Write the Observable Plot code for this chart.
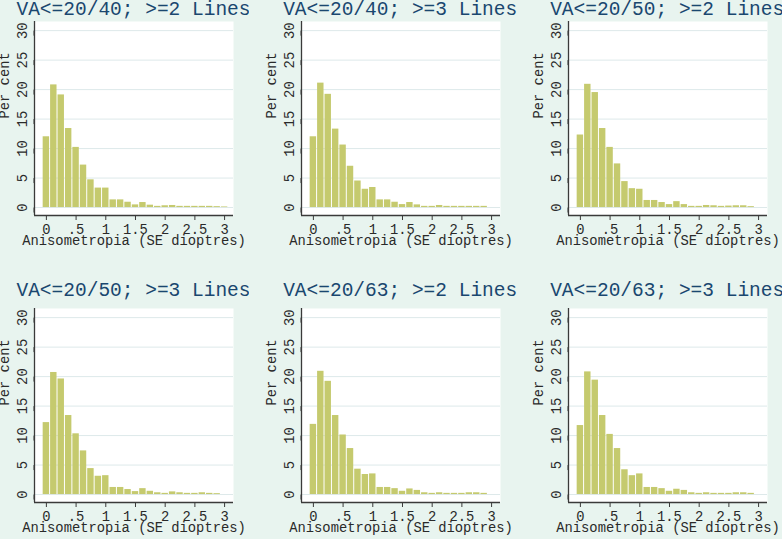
<!DOCTYPE html>
<html><head><meta charset="utf-8">
<script src="https://cdn.jsdelivr.net/npm/d3@7"></script>
<script src="https://cdn.jsdelivr.net/npm/@observablehq/plot@0.6"></script>
<style>
html,body{margin:0;padding:0;background:#e8f4ef;overflow:hidden;}
#root{position:relative;width:782px;height:539px;overflow:hidden;background:#e8f4ef;}
.tclip{position:absolute;overflow:hidden;height:24px;}
.tin{position:absolute;white-space:nowrap;font-family:"Liberation Mono",monospace;font-size:19.5px;line-height:20px;color:#1a476f;text-align:center;width:400px;}
</style></head><body><div id="root"></div>
<script>
// Bin centres (SE dioptres), width 0.125
const binCenters = [0, 0.125, 0.25, 0.375, 0.5, 0.625, 0.75, 0.875, 1, 1.125, 1.25, 1.375, 1.5, 1.625, 1.75, 1.875, 2, 2.125, 2.25, 2.375, 2.5, 2.625, 2.75, 2.875, 3];
const binWidth = 0.125;

const titles = ["VA<=20/40; >=2 Lines", "VA<=20/40; >=3 Lines", "VA<=20/50; >=2 Lines",
                "VA<=20/50; >=3 Lines", "VA<=20/63; >=2 Lines", "VA<=20/63; >=3 Lines"];

const pct_40_2 = [12.0, 20.8, 19.1, 13.4, 10.2, 7.2, 4.7, 3.3, 3.3, 1.3, 1.3, 0.9, 0.45, 0.85, 0.4, 0.2, 0.3, 0.35, 0.2, 0.2, 0.2, 0.2, 0.2, 0.15, 0.1];
const pct_40_3 = [12.0, 21.1, 19.2, 13.3, 10.6, 7.0, 4.5, 3.1, 3.4, 1.3, 1.3, 0.9, 0.5, 0.85, 0.45, 0.2, 0.2, 0.35, 0.2, 0.2, 0.2, 0.2, 0.2, 0.2];
const pct_50_2 = [12.3, 20.9, 19.5, 13.4, 10.2, 7.4, 4.4, 3.2, 3.1, 1.2, 1.2, 0.85, 0.5, 1.0, 0.5, 0.2, 0.2, 0.35, 0.3, 0.2, 0.25, 0.3, 0.3, 0.15];
const pct_50_3 = [12.2, 20.7, 19.6, 13.4, 10.3, 7.4, 4.4, 3.1, 3.2, 1.2, 1.2, 0.85, 0.5, 1.0, 0.55, 0.3, 0.2, 0.45, 0.3, 0.2, 0.2, 0.3, 0.2, 0.15];
const pct_63_2 = [11.9, 20.9, 19.2, 13.4, 10.1, 7.8, 4.3, 3.4, 3.5, 1.2, 1.2, 1.0, 0.55, 0.95, 0.7, 0.3, 0.2, 0.3, 0.2, 0.2, 0.2, 0.3, 0.3, 0.2];
const pct_63_3 = [11.7, 20.8, 19.4, 13.4, 10.2, 7.8, 4.2, 3.2, 3.5, 1.2, 1.2, 1.0, 0.55, 0.9, 0.7, 0.3, 0.2, 0.3, 0.2, 0.2, 0.2, 0.3, 0.3, 0.2];

const xTicks = [0, 0.5, 1, 1.5, 2, 2.5, 3];
const xTickLabels = ["0", ".5", "1", "1.5", "2", "2.5", "3"];
const yTicks = [0, 5, 10, 15, 20, 25, 30];
const yTickLabels = ["0", "5", "10", "15", "20", "25", "30"];
const xLabel = "Anisometropia (SE dioptres)";
const yLabel = "Per cent";
const xDomain = [-0.2, 3.15];
const yDomain = [-1.35, 31.55];

const series = [pct_40_2, pct_40_3, pct_50_2, pct_50_3, pct_63_2, pct_63_3];

// layout
const colLeft = [0, 266.7, 533.7];
const clipW = [249, 251.5, 249];
const rowTop = [0, 287.3];
const titleTop = [-0.5, 280.8];

const root = document.getElementById("root");
const axisColor = "#3a3a3a";
const textColor = "#2a2a2a";

series.forEach((vals, i) => {
  const col = i % 3, row = Math.floor(i / 3);
  const rows = vals.map((v, k) => ({x1: binCenters[k] - binWidth / 2, x2: binCenters[k] + binWidth / 2, v}));
  const svg = Plot.plot({
    width: 248, height: 252,
    marginLeft: 34, marginRight: 15, marginTop: 21, marginBottom: 37,
    style: {background: "transparent", fontFamily: "Liberation Mono, monospace", fontSize: "13.8px", color: textColor, overflow: "visible"},
    x: {domain: xDomain, label: null},
    y: {domain: yDomain, label: null},
    marks: [
      Plot.frame({fill: "white", stroke: "none"}),
      Plot.gridY({ticks: yTicks, stroke: "#dde9ea", strokeOpacity: 1}),
      Plot.rectY(rows, {x1: "x1", x2: "x2", y: "v", fill: "#c5ca6e", insetLeft: 0.5, insetRight: 0.5}),
      Plot.ruleX([xDomain[0]], {stroke: axisColor, strokeWidth: 1.3}),
      Plot.ruleY([yDomain[0]], {stroke: axisColor, strokeWidth: 1.3}),
      Plot.axisX({ticks: xTicks, tickSize: 5, tickPadding: 4, tickFormat: (d, j) => xTickLabels[j], label: null, stroke: axisColor, fill: textColor}),
      Plot.axisY({ticks: yTicks, tickSize: 5, tickPadding: 7, tickFormat: (d, j) => yTickLabels[j], rotate: -90, textAnchor: "middle", label: null, stroke: axisColor, fill: textColor}),
      Plot.text([xLabel], {frameAnchor: "bottom", dy: 29.5, fill: textColor}),
      Plot.text([yLabel], {frameAnchor: "left", dx: -29.5, rotate: -90, fill: textColor})
    ]
  });
  svg.style.position = "absolute";
  svg.style.left = colLeft[col] + "px";
  svg.style.top = rowTop[row] + "px";
  svg.style.maxWidth = "none";
  root.appendChild(svg);

  const clip = document.createElement("div");
  clip.className = "tclip";
  clip.style.left = colLeft[col] + "px";
  clip.style.top = titleTop[row] + "px";
  clip.style.width = clipW[col] + "px";
  const tin = document.createElement("div");
  tin.className = "tin";
  tin.style.left = (133.5 - 200) + "px";
  tin.style.top = "0px";
  tin.textContent = titles[i];
  clip.appendChild(tin);
  root.appendChild(clip);
});
</script>
</body></html>
